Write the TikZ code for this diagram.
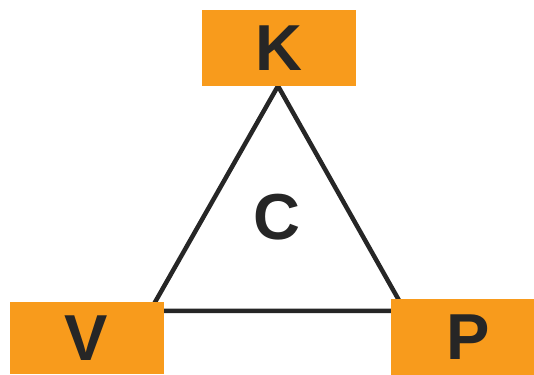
\documentclass[tikz,border=0pt]{standalone}
\usepackage{fontspec}
\setmainfont{Liberation Sans}
\usetikzlibrary{positioning}

\definecolor{boxorange}{HTML}{F89B1C}
\definecolor{inkdark}{HTML}{262626}

\begin{document}
\begin{tikzpicture}[x=1pt,y=1pt,
  corner/.style={fill=boxorange,minimum width=154pt,minimum height=76pt,
    inner sep=0pt,text=inkdark,font=\fontsize{65}{65}\selectfont\bfseries},
  edge/.style={draw=inkdark,line width=4.5pt}]
  \useasboundingbox (0,0) rectangle (534,374);
  % triangle corners
  \coordinate (top) at (278,288);
  \coordinate (left) at (150,63);
  \coordinate (right) at (405,63);
  \draw[edge] (top)--(left)--(right)--cycle;
  \node[corner] (K) at (279,326) {K};
  \node[corner,minimum height=72pt] (V) at (86.5,36) {V};
  \node[corner] (P) at (468,37) {P};
  \node[text=inkdark,font=\fontsize{65}{65}\selectfont\bfseries] (C) at (277,157) {C};
\end{tikzpicture}
\end{document}
